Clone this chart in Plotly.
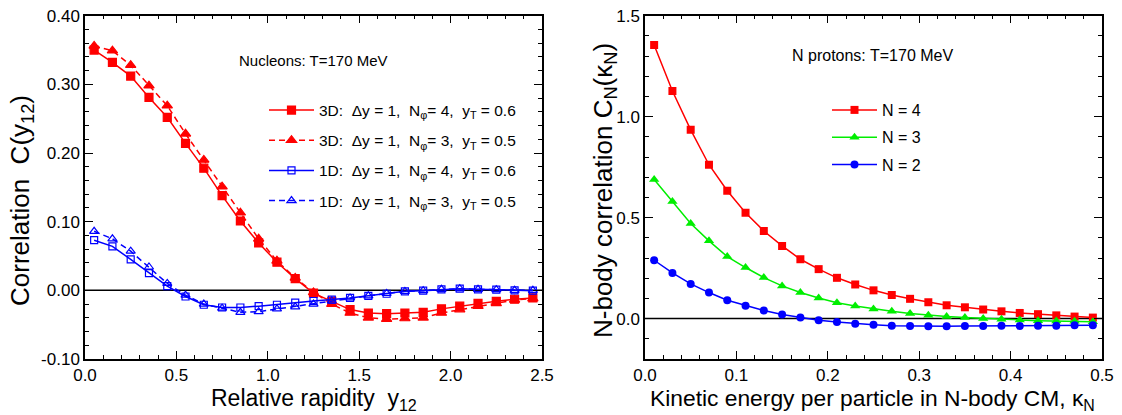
import plotly.graph_objects as go

# ---------------- data: left panel ----------------
y12 = [0.05, 0.15, 0.25, 0.35, 0.45, 0.55, 0.65, 0.75, 0.85, 0.95, 1.05, 1.15, 1.25,
       1.35, 1.45, 1.55, 1.65, 1.75, 1.85, 1.95, 2.05, 2.15, 2.25, 2.35, 2.45]
c3d_n4 = [0.350, 0.332, 0.312, 0.281, 0.252, 0.214, 0.178, 0.138, 0.101, 0.069, 0.041, 0.017, -0.004,
          -0.016, -0.028, -0.033, -0.034, -0.033, -0.032, -0.027, -0.023, -0.019, -0.016, -0.013, -0.011]
c3d_n3 = [0.356, 0.349, 0.328, 0.298, 0.269, 0.228, 0.190, 0.151, 0.113, 0.075, 0.043, 0.018, -0.003,
          -0.020, -0.033, -0.040, -0.042, -0.041, -0.040, -0.033, -0.028, -0.023, -0.019, -0.014, -0.012]
c1d_n4 = [0.073, 0.064, 0.045, 0.025, 0.006, -0.009, -0.021, -0.025, -0.025, -0.023, -0.021, -0.018, -0.0155,
          -0.0136, -0.011, -0.008, -0.005, -0.0015, -0.0005, 0.0015, 0.0024, 0.0015, 0.001, 0.0, -0.0005]
c1d_n3 = [0.086, 0.075, 0.057, 0.034, 0.010, -0.007, -0.020, -0.026, -0.032, -0.031, -0.027, -0.024, -0.020,
          -0.0155, -0.011, -0.008, -0.0045, -0.0015, -0.0005, 0.0015, 0.0024, 0.0015, 0.001, 0.0, 0.0]
left_names = ["3D:  Δy = 1,  N<sub>φ</sub>= 4,  y<sub>T</sub> = 0.6",
              "3D:  Δy = 1,  N<sub>φ</sub>= 3,  y<sub>T</sub> = 0.5",
              "1D:  Δy = 1,  N<sub>φ</sub>= 4,  y<sub>T</sub> = 0.6",
              "1D:  Δy = 1,  N<sub>φ</sub>= 3,  y<sub>T</sub> = 0.5"]
left_yticks = [-0.10, 0.00, 0.10, 0.20, 0.30, 0.40]
left_yticktext = ["-0.10", "0.00", "0.10", "0.20", "0.30", "0.40"]

# ---------------- data: right panel ----------------
kappa = [0.01, 0.03, 0.05, 0.07, 0.09, 0.11, 0.13, 0.15, 0.17, 0.19, 0.21, 0.23, 0.25,
         0.27, 0.29, 0.31, 0.33, 0.35, 0.37, 0.39, 0.41, 0.43, 0.45, 0.47, 0.49]
cn4 = [1.355, 1.127, 0.935, 0.762, 0.633, 0.524, 0.434, 0.360, 0.294, 0.245, 0.202, 0.169, 0.140,
       0.117, 0.098, 0.081, 0.066, 0.056, 0.045, 0.036, 0.028, 0.022, 0.016, 0.010, 0.005]
cn3 = [0.689, 0.580, 0.471, 0.385, 0.307, 0.253, 0.203, 0.162, 0.129, 0.1025, 0.079, 0.063, 0.048,
       0.036, 0.025, 0.0165, 0.010, 0.005, 0.0, -0.003, -0.0066, -0.010, -0.0116, -0.013, -0.015]
cn2 = [0.289, 0.226, 0.172, 0.129, 0.091, 0.064, 0.040, 0.020, 0.005, -0.008, -0.0165, -0.025, -0.030,
       -0.035, -0.036, -0.038, -0.038, -0.036, -0.036, -0.035, -0.036, -0.035, -0.035, -0.033, -0.033]
right_names = ["N = 4", "N = 3", "N = 2"]

RED = "#ff0000"
BLUE = "#0000ff"
GREEN = "#00ee00"
FONT = "Liberation Sans, Arial, sans-serif"

fig = go.Figure()

left_styles = [
    (c3d_n4, RED, "solid", "square", 8),
    (c3d_n3, RED, "dash", "triangle-up", 9),
    (c1d_n4, BLUE, "solid", "square-open", 7),
    (c1d_n3, BLUE, "dash", "triangle-up-open", 8),
]
for i, (vals, col, dash, sym, sz) in enumerate(left_styles):
    fig.add_trace(go.Scatter(
        x=y12, y=vals, mode="lines+markers", name=left_names[i],
        line=dict(color=col, width=1.5, dash=("6px,4px" if dash == "dash" else "solid")),
        marker=dict(symbol=sym, size=sz, color=col, line=dict(color=col, width=1.2)),
        xaxis="x", yaxis="y", legend="legend", legendgroup="L%d" % i))

right_styles = [
    (cn4, RED, "square", 8),
    (cn3, GREEN, "triangle-up", 9),
    (cn2, BLUE, "circle", 8),
]
for i, (vals, col, sym, sz) in enumerate(right_styles):
    fig.add_trace(go.Scatter(
        x=kappa, y=vals, mode="lines+markers", name=right_names[i],
        line=dict(color=col, width=1.5),
        marker=dict(symbol=sym, size=sz, color=col),
        xaxis="x2", yaxis="y2", legend="legend2", legendgroup="R%d" % i))

W, H = 1122, 415
def px(x):
    return x / W
def py(y):
    return 1 - y / H

common_axis = dict(
    showline=True, linecolor="black", linewidth=1.5, mirror="allticks",
    ticks="inside", ticklen=8, tickwidth=1.2, tickcolor="black",
    showgrid=False, zeroline=False, automargin=False,
    tickfont=dict(family=FONT, size=17, color="black"),
)
minor_common = dict(ticklen=4, ticks="inside", tickcolor="black", tickwidth=1.2)

ydom = [py(359), py(15.7)]

fig.update_layout(
    width=W, height=H,
    margin=dict(l=0, r=0, t=0, b=0),
    paper_bgcolor="white", plot_bgcolor="white",
    font=dict(family=FONT, color="black"),
    xaxis=dict(domain=[px(85), px(542)], range=[0, 2.5], tick0=0, dtick=0.5, tickformat=".1f",
               minor=dict(dtick=0.1, **minor_common), anchor="y", **common_axis),
    yaxis=dict(domain=ydom, range=[-0.1, 0.4], tickvals=left_yticks, ticktext=left_yticktext,
               minor=dict(dtick=0.02, tick0=0, **minor_common), anchor="x", **common_axis),
    xaxis2=dict(domain=[px(645), px(1102)], range=[0, 0.5], tick0=0, dtick=0.1, tickformat=".1f",
                minor=dict(dtick=0.02, **minor_common), anchor="y2", **common_axis),
    yaxis2=dict(domain=ydom, range=[-0.2, 1.5], tick0=0, dtick=0.5, tickformat=".1f",
                minor=dict(dtick=0.1, tick0=0, **minor_common), anchor="x2", **common_axis),
    legend=dict(x=px(264), y=py(93.5), xanchor="left", yanchor="top",
                bgcolor="rgba(0,0,0,0)", borderwidth=0, itemwidth=45,
                traceorder="grouped", tracegroupgap=7,
                font=dict(family=FONT, size=15.5, color="black")),
    legend2=dict(x=px(827), y=py(93), xanchor="left", yanchor="top",
                 bgcolor="rgba(0,0,0,0)", borderwidth=0, itemwidth=45,
                 traceorder="grouped", tracegroupgap=3.5,
                 font=dict(family=FONT, size=16, color="black")),
    showlegend=True,
)

# reference lines at y = 0
fig.add_shape(type="line", xref="x domain", yref="y", x0=0, x1=1, y0=0, y1=0,
              line=dict(color="black", width=1.5), layer="below")
fig.add_shape(type="line", xref="x2 domain", yref="y2", x0=0, x1=1, y0=0, y1=0,
              line=dict(color="black", width=1.5), layer="below")

NB = "\u00a0"
annos = [
    dict(text="Nucleons: T=170 MeV", x=px(313), y=py(61), size=15, angle=0),
    dict(text="N protons: T=170 MeV", x=px(872), y=py(56), size=16, angle=0),
    dict(text="Relative rapidity" + NB * 2 + "y<sub>12</sub>", x=px(314), y=py(399), size=23, angle=0),
    dict(text="Kinetic energy per particle in N-body CM, κ<sub>N</sub>", x=px(872), y=py(399), size=22.8, angle=0),
    dict(text="Correlation" + NB * 2 + "C(y<sub>12</sub>)", x=px(21), y=py(201), size=26, angle=-90),
    dict(text="N-body correlation C<sub>N</sub>(κ<sub>N</sub>)", x=px(604), y=py(191), size=26, angle=-90),
]
for a in annos:
    fig.add_annotation(text=a["text"], x=a["x"], y=a["y"], xref="paper", yref="paper",
                       xanchor="center", yanchor="middle", showarrow=False, textangle=a["angle"],
                       font=dict(family=FONT, size=a["size"], color="black"))

fig.write_html("out.html")
